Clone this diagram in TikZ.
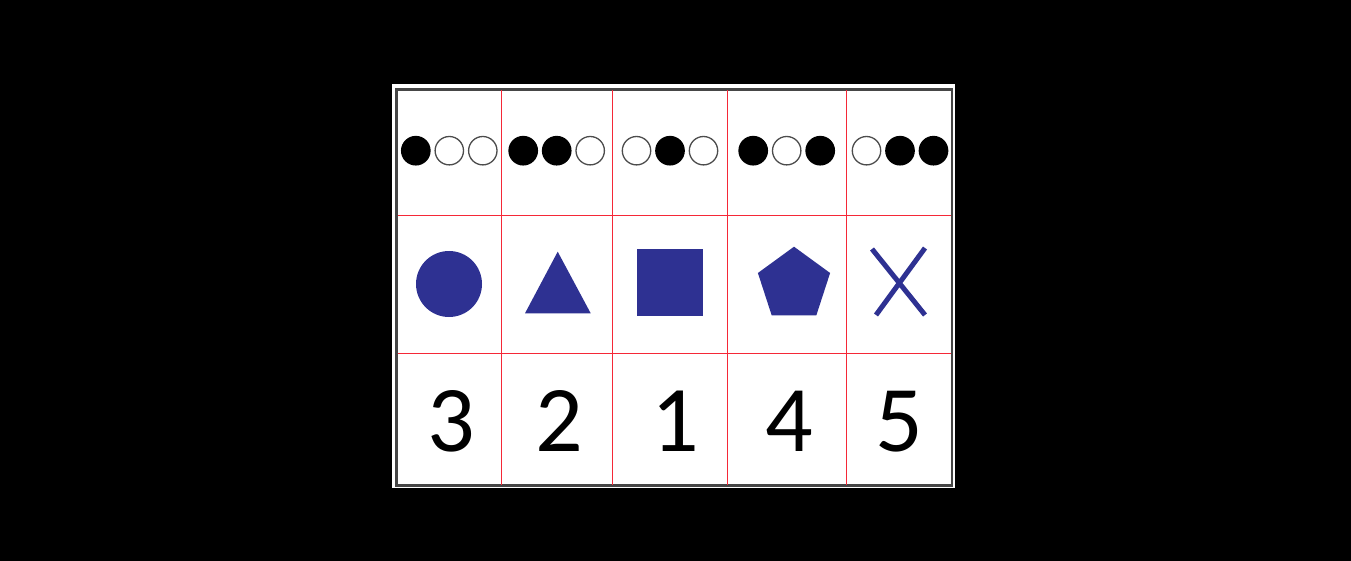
\documentclass[tikz,border=0pt]{standalone}
\usepackage{fontspec}
\setmainfont{Carlito}

\definecolor{shapeblue}{RGB}{46,49,146}
\definecolor{gridred}{RGB}{245,40,55}
\definecolor{framegray}{RGB}{70,70,70}

\begin{document}
\begin{tikzpicture}[x=1pt,y=-1pt,
	on/.style={circle, fill=black, minimum size=29.7pt, inner sep=0pt},
	off/.style={circle, draw=black!70, line width=1.3pt, fill=white,
		minimum size=28.4pt, inner sep=0pt},
	fig/.style={fill=shapeblue},
	gridline/.style={draw=gridred, line width=1.2pt},
	num/.style={anchor=base, inner sep=0pt, font=\fontsize{94}{100}\selectfont}
]
\fill[black] (0,0) rectangle (1351,561);
\fill[white] (392,84) rectangle (955,488);
\draw[framegray, line width=2.5pt] (396.3,89.3) rectangle (952,485.7);

\path[gridline] (501.5,90.5) -- (501.5,484.5) (612.5,90.5) -- (612.5,484.5)
	(727.5,90.5) -- (727.5,484.5) (846.5,90.5) -- (846.5,484.5)
	(397.5,215.5) -- (950.8,215.5) (397.5,353.5) -- (950.8,353.5);

\foreach \cx/\a/\b/\c [count=\i] in {449.3/on/off/off, 556.7/on/on/off,
	670/off/on/off, 786.7/on/off/on, 900/off/on/on} {
	\foreach \s [count=\j] in {\a,\b,\c}
		\node[\s] (dot-\i-\j) at (\cx+33.5*\j-67,150.7) {};
}

\fill[fig] (449,284) circle (33);
\fill[fig] (557.7,251.7) -- (590.7,313.3) -- (525,313.3) -- cycle;
\fill[fig] (636.7,249.3) rectangle (702.7,315.7);
\fill[fig] (794,246.7) -- (830.1,273) -- (816.3,315.4) -- (771.7,315.4)
	-- (757.9,273) -- cycle;
\draw[shapeblue, line width=5pt] (872,249) -- (925,315) (925,248) -- (876,315);

\foreach \cx/\n [count=\i] in {451.3/3, 559.5/2, 675/1, 789/4, 899/5}
	\node[num] (num-\i) at (\cx,451) {\n};
\end{tikzpicture}
\end{document}
